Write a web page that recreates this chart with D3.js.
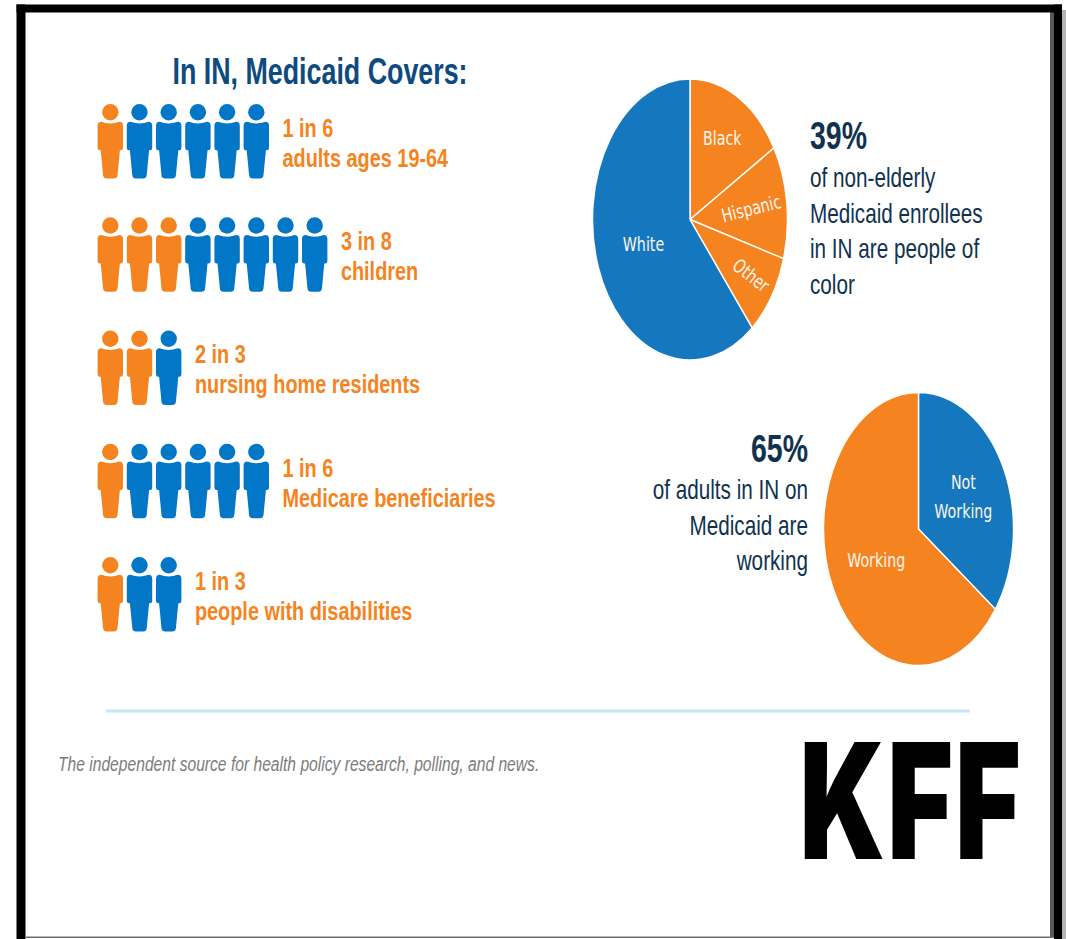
<!DOCTYPE html>
<html>
<head>
<meta charset="utf-8">
<style>
html,body{margin:0;padding:0;background:#fff;overflow:hidden}
svg{display:block}
</style>
<script src="https://cdn.jsdelivr.net/npm/d3@7/dist/d3.min.js"></script>
</head>
<body>
<svg id="chart" width="1066" height="939"></svg>
<script>
// Coverage rows: how many people in each group are covered
const coverageLabels = ["adults ages 19-64", "children", "nursing home residents", "Medicare beneficiaries", "people with disabilities"];
const coveredCounts = [1, 3, 2, 1, 1];
const groupSizes = [6, 8, 3, 6, 3];

// Race and ethnicity of non-elderly enrollees (percent)
const raceLabels = ["Black", "Hispanic", "Other", "White"];
const raceValues = [16.5, 13, 9.5, 61];

// Work status of adults on Medicaid (percent)
const workLabels = ["Not\nWorking", "Working"];
const workValues = [35, 65];

const title = "In IN, Medicaid Covers:";
const raceHeadline = "39%";
const raceLines = ["of non-elderly", "Medicaid enrollees", "in IN are people of", "color"];
const workHeadline = "65%";
const workLines = ["of adults in IN on", "Medicaid are", "working"];
const tagline = "The independent source for health policy research, polling, and news.";
const logo = "KFF";

const ORANGE = "#f58420", PERSON_BLUE = "#0277c8", PIE_BLUE = "#1578be";
const NAVY = "#10324f", TITLE_BLUE = "#0d4a80";

const svg = d3.select("#chart");

// Text helper: condensed type is a horizontal scale around the anchor point
function label(parent, s, x, y, o) {
  return parent.append("text")
    .attr("transform", `translate(${x},${y}) rotate(${o.rotate || 0}) scale(${o.sx || 1},${o.sy || 1})`)
    .attr("text-anchor", o.anchor || "start")
    .attr("font-family", o.family || "'Liberation Sans', Arial, sans-serif")
    .attr("font-size", o.size)
    .attr("font-weight", o.weight || 400)
    .attr("font-style", o.italic ? "italic" : "normal")
    .attr("letter-spacing", o.spacing || null)
    .attr("fill", o.fill)
    .text(s);
}

// Page frame
const frame = svg.append("g");
frame.append("rect").attr("x", 1062).attr("y", 10).attr("width", 4).attr("height", 929).attr("fill", "#b4b4b4");
frame.append("rect").attr("x", 1050).attr("y", 12).attr("width", 4).attr("height", 925).attr("fill", "#55585c");
frame.append("rect").attr("x", 26).attr("y", 936.5).attr("width", 1028).attr("height", 1.5).attr("fill", "#6e6e6e");
frame.append("rect").attr("x", 16.5).attr("y", 4.5).attr("width", 1045.5).attr("height", 8).attr("fill", "#000");
frame.append("rect").attr("x", 16.5).attr("y", 4.5).attr("width", 9).attr("height", 934.5).attr("fill", "#000");
frame.append("rect").attr("x", 1054).attr("y", 4.5).attr("width", 8).attr("height", 934.5).attr("fill", "#000");

// Title
label(svg, title, 320, 84, {anchor: "middle", size: 37, weight: 700, sx: 0.725, fill: TITLE_BLUE});

// Pictogram rows
const personX = d3.scaleLinear().domain([0, 1]).range([110.3, 139.5]);
const rowY = d3.scalePoint().domain(coverageLabels).range([112.3, 565.3]);
const personBody = "M-9,9.5 Q0,13 9,9.5 L9,9.5 Q12.7,9.5 12.7,13.5 L12.7,35.5 Q12.7,38 10.5,38 L9.6,38 L7.2,63 Q6.8,66.3 3.5,66.3 L-3.5,66.3 Q-6.8,66.3 -7.2,63 L-9.6,38 L-10.5,38 Q-12.7,38 -12.7,35.5 L-12.7,13.5 Q-12.7,9.5 -9,9.5 Z";

const rows = svg.selectAll("g.row")
  .data(coverageLabels.map((name, i) => ({name, covered: coveredCounts[i], total: groupSizes[i]})))
  .join("g").attr("class", "row")
  .attr("transform", d => `translate(0,${rowY(d.name)})`);

const people = rows.selectAll("g.person")
  .data(d => d3.range(d.total).map(i => ({i, covered: i < d.covered})))
  .join("g").attr("class", "person")
  .attr("transform", d => `translate(${personX(d.i)},0)`)
  .attr("fill", d => d.covered ? ORANGE : PERSON_BLUE);
people.append("circle").attr("r", 8.2);
people.append("path").attr("d", personBody);

rows.each(function(d) {
  const g = d3.select(this);
  const x = personX(d.total) - 13 + 10;
  label(g, `${d.covered} in ${d.total}`, x, 24.5, {size: 25, weight: 700, sx: 0.795, fill: ORANGE});
  label(g, d.name, x, 54.5, {size: 25, weight: 700, sx: 0.795, fill: ORANGE});
});

// Elliptical pies: slices are built on a unit circle and stretched by the group transform
function pie(cx, cy, rx, ry, labels, values, colors, placement, font) {
  const g = svg.append("g");
  const slices = d3.pie().sort(null).value(d => d.value)(labels.map((name, i) => ({name, value: values[i]})));
  const arc = d3.arc().innerRadius(0).outerRadius(1);
  g.append("g").attr("transform", `translate(${cx},${cy}) scale(${rx},${ry})`)
    .selectAll("path").data(slices).join("path")
    .attr("d", arc)
    .attr("fill", (d, i) => colors[i])
    .attr("stroke", "#fff")
    .attr("stroke-width", 1.4)
    .attr("vector-effect", "non-scaling-stroke");
  slices.forEach((d, i) => {
    const mid = (d.startAngle + d.endAngle) / 2;
    const p = placement[i];
    const x = cx + Math.sin(mid) * p.r * rx;
    const y = cy - Math.cos(mid) * p.r * ry;
    const lines = d.data.name.split("\n");
    lines.forEach((line, j) => {
      label(g, line, x, y + 7 + (j - (lines.length - 1) / 2) * 29, {
        anchor: "middle", size: font.size, sx: font.sx, rotate: p.rotate || 0,
        family: "'DejaVu Sans', Verdana, sans-serif", fill: "#fbf5ee"
      });
    });
  });
}

pie(690, 219.5, 97.5, 140.5, raceLabels, raceValues, [ORANGE, ORANGE, ORANGE, PIE_BLUE],
  [{r: 0.667}, {r: 0.65, rotate: -14}, {r: 0.7, rotate: 38}, {r: 0.507}], {size: 19, sx: 0.75});
pie(918.5, 529, 95, 136.5, workLabels, workValues, [PIE_BLUE, ORANGE],
  [{r: 0.53}, {r: 0.5}], {size: 19, sx: 0.75});

// Call-out text beside the pies
label(svg, raceHeadline, 810, 149, {size: 39, weight: 700, sx: 0.73, fill: NAVY});
raceLines.forEach((s, i) => label(svg, s, 810, 187 + i * 35.5, {size: 27, sx: 0.767, fill: NAVY}));
label(svg, workHeadline, 808, 462, {anchor: "end", size: 39, weight: 700, sx: 0.73, fill: NAVY});
workLines.forEach((s, i) => label(svg, s, 808, 499 + i * 35.5, {anchor: "end", size: 27, sx: 0.767, fill: NAVY}));

// Footer
svg.append("rect").attr("x", 106).attr("y", 709.5).attr("width", 864).attr("height", 3).attr("fill", "#c5e6fb");
label(svg, tagline, 58, 771, {size: 20, italic: true, sx: 0.782, fill: "#7c7c7c"});
label(svg, logo, 799.5, 859, {size: 161, weight: 900, sx: 0.7, spacing: 3, family: "Inter, 'Liberation Sans', sans-serif", fill: "#000"});
</script>
</body>
</html>
